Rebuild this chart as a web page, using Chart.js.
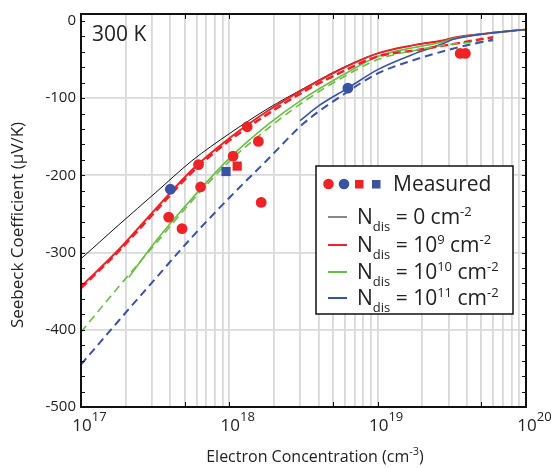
<!DOCTYPE html>
<html>
<head>
<meta charset="utf-8">
<script src="https://cdn.jsdelivr.net/npm/chart.js@4.4.0/dist/chart.umd.min.js"></script>
<style>
html, body { margin: 0; padding: 0; background: #fff; }
</style>
</head>
<body>
<canvas id="c" width="554" height="468"></canvas>
<script>
const FONT = '"Open Sans", "DejaVu Sans", sans-serif';
const RED = '#ec2327', BLUE = '#3953a4', GREEN = '#6abd45', BLACK = '#111111';

// model curves (x: electron concentration cm^-3, y: Seebeck uV/K)
const solidX = [1e17, 1.8e17, 3.2e17, 5.6e17, 1e18, 1.8e18, 3.2e18, 5.6e18, 1e19, 1.8e19, 2.8e19, 3.2e19, 5.6e19, 1e20];
const blackSolid = [-308, -264, -222, -181, -146, -114, -87, -62, -42, -31, -25, -22, -16, -11];
const redSolid   = [-344, -296, -243, -193, -152, -117, -88, -63, -42, -31, -25, -22, -16, -11];

const greenSolidX = [2.1e17, 3.2e17, 5.6e17, 1e18, 1.8e18, 3.2e18, 5.6e18, 1e19, 1.8e19, 2.8e19, 3.2e19, 5.6e19, 1e20];
const greenSolid  = [-332, -285, -230, -178, -135, -100, -72, -46, -34, -27, -23, -16, -11];

const blueSolidX = [3e18, 4e18, 6.3e18, 1e19, 1.8e19, 2.8e19, 3.2e19, 5.6e19, 1e20];
const blueSolid  = [-129, -110, -87, -63, -42, -29, -24, -16, -11];

const dashX = [1e17, 1.8e17, 3.2e17, 5.6e17, 1e18, 1.8e18, 3.2e18, 5.6e18, 1e19, 1.8e19, 3.2e19, 6e19];
const redDash   = [-346, -298, -246, -196, -155, -121, -91, -67, -46, -38, -30, -21];
const greenDash = [-403, -344, -288, -233, -182, -140, -104, -75, -50, -38, -30, -26];
const blueDash  = [-445, -388, -333, -280, -229, -180, -132, -98, -68, -50, -36, -24];

// measured points
const redCircX  = [1.32e18, 1.57e18, 1.06e18, 6.2e17, 6.4e17, 1.64e18, 3.9e17, 4.8e17, 3.6e19, 3.9e19];
const redCircY  = [-137, -156, -175, -186, -215, -235, -254, -269, -42, -42];
const blueCircX = [4.0e17, 6.3e18];
const blueCircY = [-218, -87];
const redSqX  = [1.13e18];
const redSqY  = [-188];
const blueSqX = [9.5e17];
const blueSqY = [-195];

// axes
const yTicks = [-500, -400, -300, -200, -100, 0];
const xDecades = [17, 18, 19, 20];

const xGrid = [];
for (let d = 17; d < 20; d++) {
    for (let m = 1; m < 10; m++) xGrid.push(m * Math.pow(10, d));
}
xGrid.push(1e20);

function pts(xs, ys) {
    return xs.map((x, i) => ({ x: x, y: ys[i] }));
}

function lineSet(xs, ys, color, width, dash) {
    return {
        data: pts(xs, ys), showLine: true, pointRadius: 0,
        borderColor: color, borderWidth: width, borderDash: dash || [],
        cubicInterpolationMode: 'monotone', fill: false
    };
}

function markSet(xs, ys, color, style, r) {
    return {
        data: pts(xs, ys), showLine: false, pointStyle: style,
        pointRadius: r, backgroundColor: color, borderColor: color, borderWidth: 0
    };
}

// draws text pieces [text, size, dy] one after another
function rich(ctx, x, y, parts) {
    let cx = x;
    for (const p of parts) {
        ctx.font = p[1] + 'px ' + FONT;
        ctx.fillText(p[0], cx, y + (p[2] || 0));
        cx += ctx.measureText(p[0]).width;
    }
    return cx;
}

function richWidth(ctx, parts) {
    let w = 0;
    for (const p of parts) {
        ctx.font = p[1] + 'px ' + FONT;
        w += ctx.measureText(p[0]).width;
    }
    return w;
}

const decor = {
    id: 'decor',
    afterDatasetsDraw(chart) {
        const { ctx, chartArea: a, scales: { x, y } } = chart;
        ctx.save();
        ctx.strokeStyle = BLACK;
        ctx.lineWidth = 1;
        ctx.beginPath();
        for (let v = -480; v <= 0; v += 20) {
            const py = Math.round(y.getPixelForValue(v)) + 0.5;
            ctx.moveTo(a.left, py); ctx.lineTo(a.left + 4, py);
            ctx.moveTo(a.right, py); ctx.lineTo(a.right - 4, py);
        }
        for (const d of xDecades) {
            for (const m of [1, 5]) {
                const v = m * Math.pow(10, d);
                if (v > 1e20) continue;
                const px = Math.round(x.getPixelForValue(v)) + 0.5;
                ctx.moveTo(px, a.top); ctx.lineTo(px, a.top + 5);
                ctx.moveTo(px, a.bottom); ctx.lineTo(px, a.bottom - 5);
            }
        }
        ctx.stroke();
        ctx.lineWidth = 2;
        ctx.strokeRect(a.left, a.top, a.right - a.left, a.bottom - a.top);
        ctx.restore();
    },
    afterDraw(chart) {
        const { ctx, chartArea: a, scales: { x } } = chart;
        ctx.save();
        ctx.fillStyle = '#222';
        ctx.textAlign = 'left';
        ctx.textBaseline = 'alphabetic';

        // x tick labels 10^n
        for (const d of xDecades) {
            const px = x.getPixelForValue(Math.pow(10, d));
            ctx.font = '17px ' + FONT;
            const w = ctx.measureText('10').width;
            rich(ctx, px - w / 2 + 1, 431, [['10', 17, 0], [String(d), 13, -10]]);
        }

        // x title
        const xt = [['Electron Concentration (cm', 16, 0], ['-3', 11, -7], [')', 16, 0]];
        rich(ctx, 315 - richWidth(ctx, xt) / 2, 462, xt);

        // y title
        ctx.save();
        ctx.translate(18, 225);
        ctx.rotate(-Math.PI / 2);
        ctx.textAlign = 'center';
        ctx.textBaseline = 'middle';
        ctx.font = '17px ' + FONT;
        ctx.fillText('Seebeck Coefficient (\u03bcV/K)', 0, 0);
        ctx.restore();

        // temperature label
        ctx.font = '21px ' + FONT;
        ctx.fillText('300 K', a.left + 11, a.top + 27);

        // legend box
        const bx = 316, by = 166, bw = 197, bh = 148;
        ctx.fillStyle = '#fff';
        ctx.fillRect(bx, by, bw, bh);
        ctx.strokeStyle = BLACK;
        ctx.lineWidth = 1.5;
        ctx.strokeRect(bx, by, bw, bh);

        ctx.fillStyle = RED;
        ctx.beginPath(); ctx.arc(328.5, 184, 5.3, 0, Math.PI * 2); ctx.fill();
        ctx.fillStyle = BLUE;
        ctx.beginPath(); ctx.arc(344, 184, 5.3, 0, Math.PI * 2); ctx.fill();
        ctx.fillStyle = RED;
        ctx.fillRect(355, 180, 8.5, 8.5);
        ctx.fillStyle = BLUE;
        ctx.fillRect(372, 180, 8.5, 8.5);

        ctx.fillStyle = '#222';
        rich(ctx, 393, 191, [['Measured', 21, 0]]);

        const rows = [
            [BLACK, 1, 217, 224, [[' = 0 cm', 21, 0], ['-2', 13, -8]]],
            [RED, 2, 245, 252, [[' = 10', 21, 0], ['9', 13, -8], [' cm', 21, 0], ['-2', 13, -8]]],
            [GREEN, 2, 272, 279, [[' = 10', 21, 0], ['10', 13, -8], [' cm', 21, 0], ['-2', 13, -8]]],
            [BLUE, 2, 298, 305, [[' = 10', 21, 0], ['11', 13, -8], [' cm', 21, 0], ['-2', 13, -8]]]
        ];
        for (const r of rows) {
            ctx.strokeStyle = r[0];
            ctx.lineWidth = r[1];
            ctx.beginPath(); ctx.moveTo(328, r[2]); ctx.lineTo(347, r[2]); ctx.stroke();
            ctx.fillStyle = '#222';
            rich(ctx, 357, r[3], [['N', 21, 0], ['dis', 13, 7]].concat(r[4]));
        }
        ctx.restore();
    }
};

new Chart(document.getElementById('c'), {
    type: 'scatter',
    data: {
        datasets: [
            markSet(redCircX, redCircY, RED, 'circle', 5.4),
            markSet(blueCircX, blueCircY, BLUE, 'circle', 5.4),
            markSet(redSqX, redSqY, RED, 'rect', 6.5),
            markSet(blueSqX, blueSqY, BLUE, 'rect', 6.5),
            lineSet(dashX, blueDash, BLUE, 2, [8, 5]),
            lineSet(dashX, greenDash, GREEN, 1.6, [8, 5]),
            lineSet(dashX, redDash, RED, 2.5, [8, 4]),
            lineSet(blueSolidX, blueSolid, BLUE, 1.6),
            lineSet(greenSolidX, greenSolid, GREEN, 1.6),
            lineSet(solidX, redSolid, RED, 2),
            lineSet(solidX, blackSolid, BLACK, 1)
        ]
    },
    options: {
        responsive: false,
        animation: false,
        layout: { padding: { top: 10, right: 28, left: 0, bottom: 0 } },
        plugins: { legend: { display: false }, tooltip: { enabled: false } },
        scales: {
            x: {
                type: 'logarithmic', min: 1e17, max: 1e20,
                afterBuildTicks: s => { s.ticks = xGrid.map(v => ({ value: v })); },
                afterFit: s => { s.height = 61; },
                ticks: { display: false },
                grid: {
                    color: c => (c.tick && c.tick.value > 1e17 && c.tick.value < 1e20) ? '#d9d9d9' : 'rgba(0,0,0,0)',
                    lineWidth: 1.8, drawTicks: false
                },
                border: { display: false }
            },
            y: {
                min: -500, max: 9,
                afterBuildTicks: s => { s.ticks = yTicks.map(v => ({ value: v })); },
                afterFit: s => { s.width = 81; },
                ticks: {
                    font: { family: FONT, size: 15 }, color: '#222', padding: 5,
                    callback: v => String(v)
                },
                grid: {
                    color: c => (c.tick && c.tick.value > -500 && c.tick.value < 0) ? '#d9d9d9' : 'rgba(0,0,0,0)',
                    lineWidth: 1.8, drawTicks: false
                },
                border: { display: false }
            }
        }
    },
    plugins: [decor]
});
</script>
</body>
</html>
